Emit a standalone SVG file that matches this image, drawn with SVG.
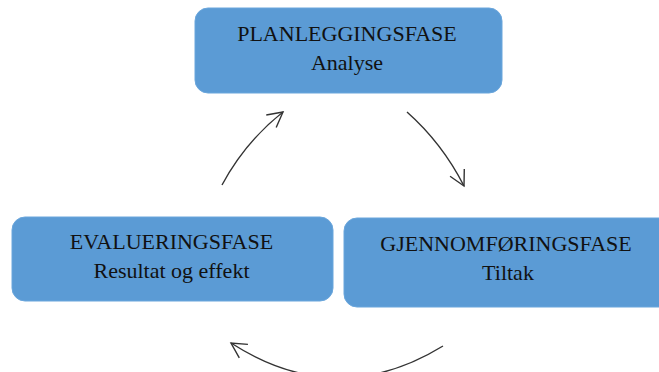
<svg xmlns="http://www.w3.org/2000/svg" width="659" height="372" viewBox="0 0 659 372">
<style>
.box{fill:#5B9BD5;stroke:#6AA6DC;stroke-width:1}
.t{font-family:"Liberation Serif","Times New Roman",serif;font-size:22px;fill:#111;text-anchor:middle}
.c{fill:none;stroke:#333;stroke-width:1.4}
</style>
<defs>
<marker id="ah" markerUnits="userSpaceOnUse" markerWidth="40" markerHeight="40" viewBox="-20 -20 40 40" refX="0" refY="0" orient="auto">
<path d="M-15,-8 L0,0 L-15,8" fill="none" stroke="#333" stroke-width="1.4"/>
</marker>
</defs>
<g id="node-planlegging">
<rect class="box" x="195" y="8" width="307" height="85" rx="13"/>
<text class="t" x="347" y="41">PLANLEGGINGSFASE</text>
<text class="t" x="347" y="70">Analyse</text>
</g>
<g id="node-evaluering">
<rect class="box" x="12" y="217" width="321" height="84" rx="13"/>
<text class="t" x="171.5" y="249">EVALUERINGSFASE</text>
<text class="t" x="171.5" y="278">Resultat og effekt</text>
</g>
<g id="node-gjennomforing">
<rect class="box" x="344" y="218" width="330" height="89" rx="13"/>
<text class="t" x="506" y="251">GJENNOMFØRINGSFASE</text>
<text class="t" x="508" y="280">Tiltak</text>
</g>
<g id="connectors">
<path class="c" d="M222,185 Q245,142 283,112" marker-end="url(#ah)"/>
<path class="c" d="M407,112 Q442,143 464,186" marker-end="url(#ah)"/>
<path class="c" d="M443,346 Q337,411 231,343" marker-end="url(#ah)"/>
</g>
</svg>
